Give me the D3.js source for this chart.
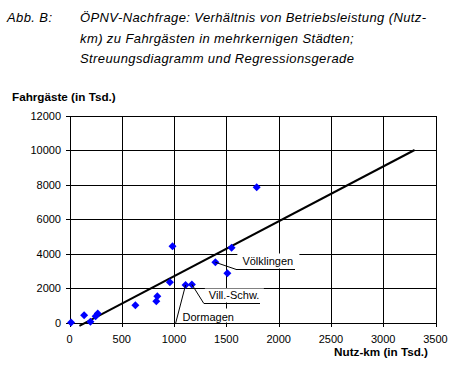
<!DOCTYPE html>
<html>
<head>
<meta charset="utf-8">
<script src="https://cdn.jsdelivr.net/npm/d3@7"></script>
<style>
    body { margin: 0; background: #fff; }
    svg { display: block; font-family: "Liberation Sans", Arial, sans-serif; }
</style>
</head>
<body>
<div id="chart"></div>
<script>
// Nutz-km (in Tsd.) per city
const nutzKm = [15, 140, 200, 250, 270, 630, 830, 840, 960, 985, 1110, 1170, 1395, 1510, 1550, 1790]
// Fahrgaeste (in Tsd.) per city
const fahrgaeste = [0, 420, 50, 360, 520, 1000, 1230, 1520, 2330, 4420, 2170, 2210, 3490, 2850, 4340, 7840]

// Regression line end points
const regX = [95, 3300]
const regY = [-200, 10000]

// Tick values
const xTicks = [0, 500, 1000, 1500, 2000, 2500, 3000, 3500]
const yTicks = [0, 2000, 4000, 6000, 8000, 10000, 12000]

// Labelled cities and the point they belong to
const labelNames = ["Völklingen", "Vill.-Schw.", "Dormagen"]
const labelPoints = [12, 11, 10]

const titleLines = [
    "ÖPNV-Nachfrage: Verhältnis von Betriebsleistung (Nutz-",
    "km) zu Fahrgästen in mehrkernigen Städten;",
    "Streuungsdiagramm und Regressionsgerade"
]

function drawChart(container) {
    const width = 457, height = 366

    let svg = d3.select(container).append("svg")
        .attr("width", width)
        .attr("height", height)

    // Scales map data to screen
    let x = d3.scaleLinear().domain([0, 3500]).range([69.5, 435.5])
    let y = d3.scaleLinear().domain([0, 12000]).range([322.5, 115.5])

    // Title block
    svg.append("text")
        .attr("x", 7).attr("y", 22)
        .style("font-size", "13px").style("font-style", "italic")
        .style("letter-spacing", "0.4px")
        .text("Abb. B:")
    svg.selectAll(".title")
        .data(titleLines)
        .enter().append("text")
        .attr("x", 80)
        .attr("y", (d, i) => 22 + i * 20.5)
        .style("font-size", "13px").style("font-style", "italic")
        .style("letter-spacing", "0.4px")
        .text(d => d)

    // Axis titles
    svg.append("text")
        .attr("x", 12).attr("y", 101)
        .style("font-size", "11.7px").style("font-weight", "bold")
        .text("Fahrgäste (in Tsd.)")
    svg.append("text")
        .attr("x", 428).attr("y", 356)
        .attr("text-anchor", "end")
        .style("font-size", "11.7px").style("font-weight", "bold")
        .text("Nutz-km (in Tsd.)")

    let grid = svg.append("g").attr("shape-rendering", "crispEdges")

    // Horizontal grid lines plus left ticks
    grid.selectAll(".hgrid")
        .data(yTicks)
        .enter().append("line")
        .attr("x1", x(0) - 4).attr("x2", x(3500))
        .attr("y1", d => Math.round(y(d)) + 0.5).attr("y2", d => Math.round(y(d)) + 0.5)
        .attr("stroke", "#000")

    // Vertical grid lines plus bottom ticks
    grid.selectAll(".vgrid")
        .data(xTicks)
        .enter().append("line")
        .attr("x1", d => Math.round(x(d)) + 0.5).attr("x2", d => Math.round(x(d)) + 0.5)
        .attr("y1", y(12000)).attr("y2", y(0) + 4)
        .attr("stroke", "#000")

    // Tick labels
    svg.selectAll(".ylab")
        .data(yTicks)
        .enter().append("text")
        .attr("x", 61)
        .attr("y", d => y(d) + 4)
        .attr("text-anchor", "end")
        .style("font-size", "11px")
        .text(d => d)
    svg.selectAll(".xlab")
        .data(xTicks)
        .enter().append("text")
        .attr("x", d => x(d))
        .attr("y", 343)
        .attr("text-anchor", "middle")
        .style("font-size", "11px")
        .text(d => d)

    // Regression line
    svg.append("line")
        .attr("x1", x(regX[0])).attr("y1", y(regY[0]))
        .attr("x2", x(regX[1])).attr("y2", y(regY[1]))
        .attr("stroke", "#000")
        .attr("stroke-width", 2)

    // Data points as blue diamonds
    svg.selectAll(".pt")
        .data(nutzKm)
        .enter().append("path")
        .attr("d", "M0,-4L4,0L0,4L-4,0Z")
        .attr("transform", (d, i) => `translate(${x(d)},${y(fahrgaeste[i])})`)
        .attr("fill", "#0000ff")

    // Data labels with leader lines: offsets from the point in pixels
    const offsets = [
        {lx: 21, ly: 6.5, w: 62, tx: 6, ty: -4.5, bt: -16},
        {lx: 12, ly: 19, w: 59, tx: 5, ty: -5, bt: -15},
        {lx: -10, ly: 37.5, w: 61, tx: 7, ty: -3, bt: -15}
    ]
    labelNames.forEach(function (name, k) {
        let i = labelPoints[k]
        let px = x(nutzKm[i]), py = y(fahrgaeste[i])
        let o = offsets[k]
        let ex = px + o.lx, ey = Math.round(py + o.ly) + 0.5
        let g = svg.append("g")
        g.append("rect")
            .attr("x", ex + 1).attr("y", ey + o.bt)
            .attr("width", o.w).attr("height", -o.bt - 1)
            .attr("fill", "#fff")
        g.append("line")
            .attr("x1", px).attr("y1", py)
            .attr("x2", ex).attr("y2", ey)
            .attr("stroke", "#000")
        g.append("line")
            .attr("x1", ex).attr("x2", ex + o.w - 3)
            .attr("y1", ey).attr("y2", ey)
            .attr("stroke", "#000")
            .attr("shape-rendering", "crispEdges")
        g.append("text")
            .attr("x", ex + o.tx).attr("y", ey + o.ty)
            .style("font-size", "11px")
            .text(name)
    })
}

drawChart("#chart")
</script>
</body>
</html>
